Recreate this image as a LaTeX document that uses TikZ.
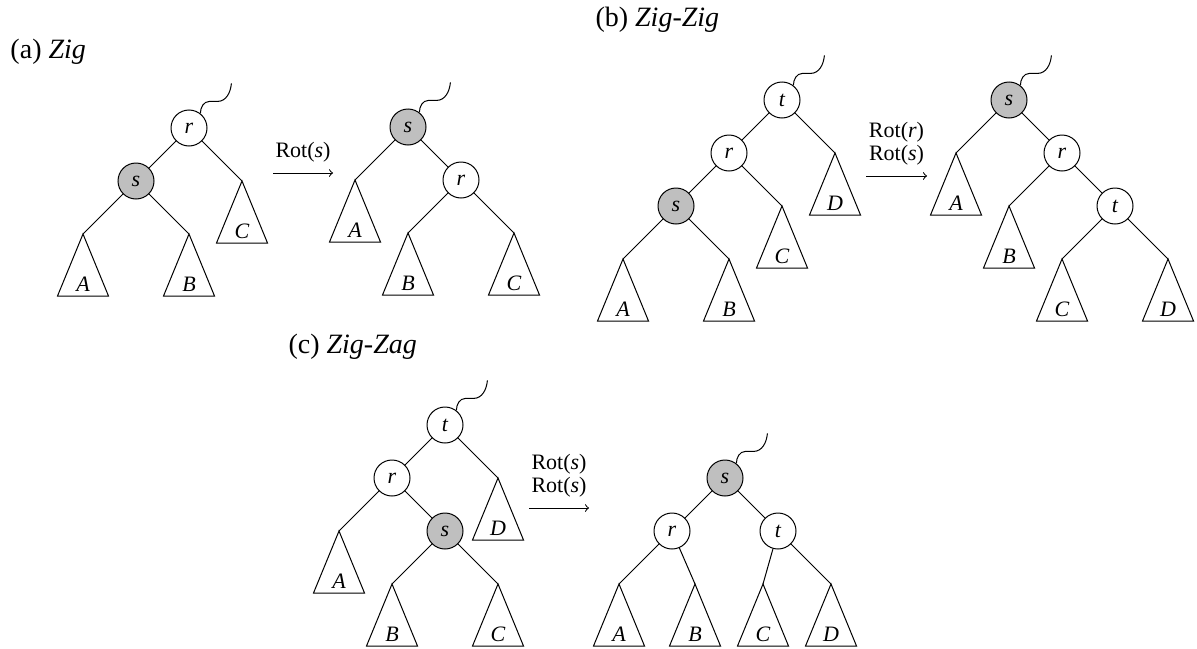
\documentclass[tikz,border=0pt]{standalone}
\usepackage{fontspec}
\setmainfont{Liberation Serif}
\usetikzlibrary{positioning}

% subtree triangle hanging from an apex coordinate
\newcommand\subtree[2]{%
  \draw (#1) -- ++(-25.5,62) -- ++(51,0) -- cycle;
  \node[leaf label] (#1-l) at ([yshift=-25pt]#1) {#2};}
% wiggly line from the root up to the rest of the tree
\newcommand\accesspath[1]{%
  \draw (#1.52) to[out=90,in=180] ++(9,-12) -- ++(8,0) to[out=0,in=-95] ++(14,-18);}

\begin{document}
\begin{tikzpicture}[x=0.5pt,y=-0.5pt,line width=0.5pt,>=to,
    node distance=26.5pt and 26.5pt,on grid]
    \tikzstyle{plain node}=[circle,draw,minimum size=18pt,inner sep=0pt,font=\fontsize{11}{13}\selectfont\itshape]
    \tikzstyle{splay node}=[plain node,fill=black!25]
    \tikzstyle{leaf label}=[inner sep=0pt,font=\fontsize{11}{13}\selectfont\itshape]
    \tikzstyle{case title}=[anchor=base west,inner sep=0pt,font=\fontsize{14}{17}\selectfont]
    \tikzstyle{rot label}=[above,inner sep=5pt,align=center,font=\fontsize{11}{11.5}\selectfont]

    \useasboundingbox (0,0) rectangle (1197,648);

    % (a) Zig
    \node[case title] (ta) at (10,58) {(a) \textit{Zig}};
    \node[plain node] (aR) at (189,128) {r};
    \node[splay node,below left=of aR] (aS) {s};
    \coordinate[below right=of aR] (aC);
    \coordinate[below left=of aS] (aA);
    \coordinate[below right=of aS] (aB);
    \draw (aR) -- (aS) (aR) -- (aC) (aS) -- (aA) (aS) -- (aB);
    \subtree{aA}{A} \subtree{aB}{B} \subtree{aC}{C}
    \accesspath{aR}

    \coordinate (aFrom) at (273,173);
    \coordinate (aTo) at (333,173);
    \draw[->] (aFrom) -- node[rot label] (aRot) {Rot(\textit{s})} (aTo);

    \node[splay node] (aS2) at (408,127) {s};
    \coordinate[below left=of aS2] (aA2);
    \node[plain node,below right=of aS2] (aR2) {r};
    \coordinate[below left=of aR2] (aB2);
    \coordinate[below right=of aR2] (aC2);
    \draw (aS2) -- (aA2) (aS2) -- (aR2) (aR2) -- (aB2) (aR2) -- (aC2);
    \subtree{aA2}{A} \subtree{aB2}{B} \subtree{aC2}{C}
    \accesspath{aS2}

    % (b) Zig-Zig
    \node[case title] (tb) at (595,26) {(b) \textit{Zig-Zig}};
    \node[plain node] (bT) at (782,100) {t};
    \node[plain node,below left=of bT] (bR) {r};
    \coordinate[below right=of bT] (bD);
    \node[splay node,below left=of bR] (bS) {s};
    \coordinate[below right=of bR] (bC);
    \coordinate[below left=of bS] (bA);
    \coordinate[below right=of bS] (bB);
    \draw (bT) -- (bR) (bT) -- (bD) (bR) -- (bS) (bR) -- (bC) (bS) -- (bA) (bS) -- (bB);
    \subtree{bA}{A} \subtree{bB}{B} \subtree{bC}{C} \subtree{bD}{D}
    \accesspath{bT}

    \coordinate (bFrom) at (866,176);
    \coordinate (bTo) at (927,176);
    \draw[->] (bFrom) -- node[rot label] (bRot) {Rot(\textit{r})\\Rot(\textit{s})} (bTo);

    \node[splay node] (bS2) at (1009,100) {s};
    \coordinate[below left=of bS2] (bA2);
    \node[plain node,below right=of bS2] (bR2) {r};
    \coordinate[below left=of bR2] (bB2);
    \node[plain node,below right=of bR2] (bT2) {t};
    \coordinate[below left=of bT2] (bC2);
    \coordinate[below right=of bT2] (bD2);
    \draw (bS2) -- (bA2) (bS2) -- (bR2) (bR2) -- (bB2) (bR2) -- (bT2) (bT2) -- (bC2) (bT2) -- (bD2);
    \subtree{bA2}{A} \subtree{bB2}{B} \subtree{bC2}{C} \subtree{bD2}{D}
    \accesspath{bS2}

    % (c) Zig-Zag
    \node[case title] (tc) at (288,353) {(c) \textit{Zig-Zag}};
    \node[plain node] (cT) at (445,425) {t};
    \node[plain node,below left=of cT] (cR) {r};
    \coordinate[below right=of cT] (cD);
    \coordinate[below left=of cR] (cA);
    \node[splay node,below right=of cR] (cS) {s};
    \coordinate[below left=of cS] (cB);
    \coordinate[below right=of cS] (cC);
    \draw (cT) -- (cR) (cT) -- (cD) (cR) -- (cA) (cR) -- (cS) (cS) -- (cB) (cS) -- (cC);
    \subtree{cA}{A} \subtree{cB}{B} \subtree{cC}{C} \subtree{cD}{D}
    \accesspath{cT}

    \coordinate (cFrom) at (529,508);
    \coordinate (cTo) at (589,508);
    \draw[->] (cFrom) -- node[rot label] (cRot) {Rot(\textit{s})\\Rot(\textit{s})} (cTo);

    \node[splay node] (cS2) at (725,478) {s};
    \node[plain node,below left=of cS2] (cR2) {r};
    \node[plain node,below right=of cS2] (cT2) {t};
    \coordinate[below left=of cR2] (cA2);
    \coordinate[below right=26.5pt and 11.5pt of cR2] (cB2);
    \coordinate[below left=26.5pt and 7.5pt of cT2] (cC2);
    \coordinate[below right=of cT2] (cD2);
    \draw (cS2) -- (cR2) (cS2) -- (cT2) (cR2) -- (cA2) (cR2) -- (cB2) (cT2) -- (cC2) (cT2) -- (cD2);
    \subtree{cA2}{A} \subtree{cB2}{B} \subtree{cC2}{C} \subtree{cD2}{D}
    \accesspath{cS2}
\end{tikzpicture}
\end{document}
